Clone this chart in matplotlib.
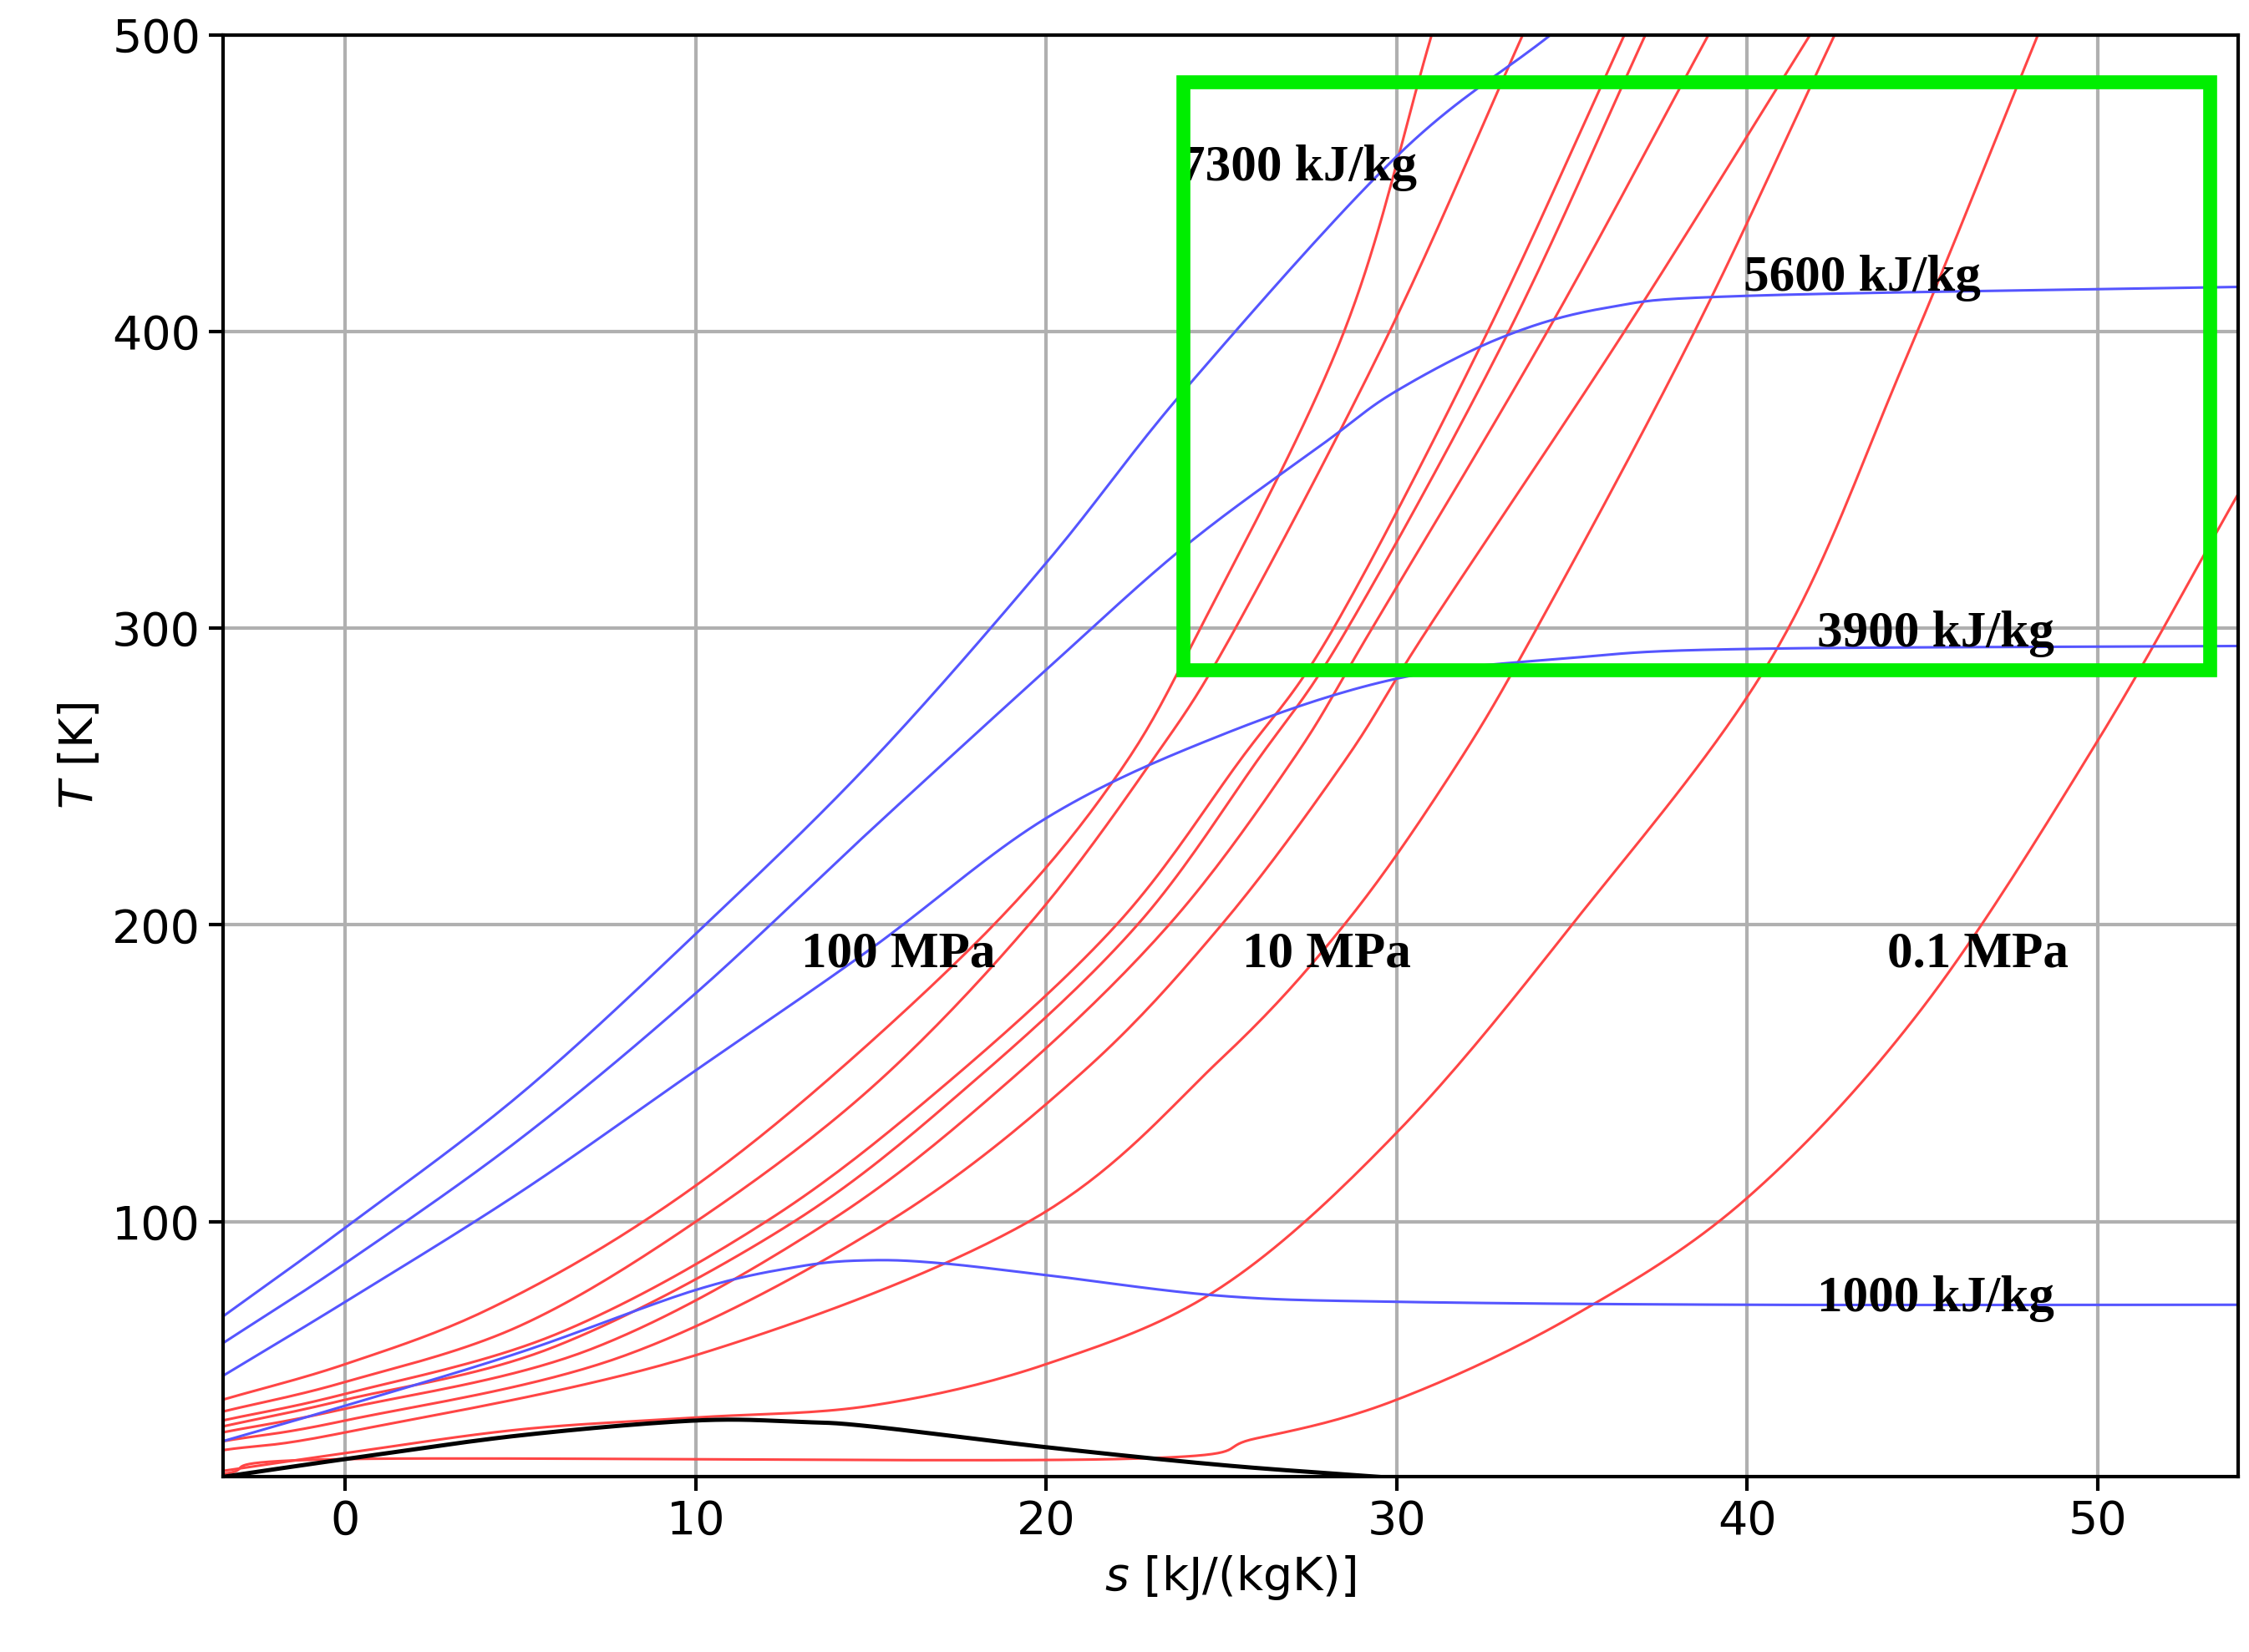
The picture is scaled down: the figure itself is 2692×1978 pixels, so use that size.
"""T-s diagram with isobars, isenthalps and the saturation dome."""

import matplotlib

matplotlib.use("Agg")
import numpy as np
from matplotlib import pyplot as plt
from matplotlib.patches import Rectangle

# isobars: (s [kJ/(kgK)], T [K]) points
isobars = [
    ([-3.5, 0, 4, 8.5, 13, 18.5, 22, 24.4, 28.5, 31.0], [40, 52, 70, 100, 140, 200, 250, 300, 400, 500]),
    ([-3.5, 0, 5, 10, 15, 19.5, 23, 25.4, 29.8, 33.6], [36, 46, 65, 100, 145, 200, 255, 300, 400, 500]),
    ([-3.5, 0, 6, 12, 17, 22.0, 25.5, 28.2, 32.6, 36.5], [33, 42, 62, 100, 145, 200, 255, 300, 400, 500]),
    ([-3.5, 0, 6, 12.8, 18, 22.6, 26, 28.6, 33.2, 37.1], [31, 40, 58, 100, 148, 200, 255, 300, 400, 500]),
    ([-3.5, 0, 7, 13.8, 19, 23.5, 27, 29.3, 34.3, 38.9], [29, 37, 57, 100, 148, 200, 255, 300, 400, 500]),
    ([-3.5, 0, 8, 15.5, 21, 25.0, 28.5, 30.9, 36.5, 41.8], [26, 33, 55, 100, 150, 200, 255, 300, 400, 500]),
    ([-3.5, 0, 10, 19.5, 25, 28.5, 31.5, 34.0, 38.5, 42.5], [23, 29, 55, 100, 155, 200, 250, 300, 400, 500]),
    ([-3.5, 0, 5, 10, 15, 20, 25, 30, 35, 40.7, 44.5, 48.3], [16, 22, 30, 34, 38, 52, 78, 130, 200, 290, 390, 500]),
    ([-3.5, 0, 22, 26, 30, 35, 40, 45, 50, 54], [15, 20, 20, 27, 40, 68, 108, 172, 262, 345]),
]

# isenthalps
isenthalps = [
    ([-3.5, 0, 5, 10, 15, 20, 24, 30, 34.4], [68, 98, 143, 197, 255, 322, 381, 459, 500]),
    ([-3.5, 0, 5, 10, 15, 20, 24, 28, 30, 33, 36, 40, 54], [59, 86, 128, 177, 232, 286, 328, 363, 380, 398, 408, 412, 415]),
    ([-3.5, 0, 5, 10, 15, 20, 25, 30, 35, 40, 54], [48, 73, 110, 151, 192, 236, 264, 283, 290, 293, 294]),
    ([-3.5, 0, 5, 10, 13, 15, 17, 20, 25, 30, 40, 54], [26, 38, 56, 77, 85, 87, 86, 82, 75, 73, 72, 72]),
]

# saturation dome
dome_s = [-3.5, 0, 5, 10, 13, 15, 20, 25, 29.5]
dome_T = [14, 20, 28, 33, 32.5, 31, 24, 18, 14]


def smooth(xs, ys, n=20):
    """Catmull-Rom path through the read points, for drawing only."""
    p = np.column_stack([xs, ys]).astype(float)
    p = np.vstack([2 * p[0] - p[1], p, 2 * p[-1] - p[-2]])
    t = np.linspace(0, 1, n, endpoint=False)[:, None]
    out = []
    for i in range(1, len(p) - 2):
        p0, p1, p2, p3 = p[i - 1], p[i], p[i + 1], p[i + 2]
        out.append(0.5 * (2 * p1 + (-p0 + p2) * t + (2 * p0 - 5 * p1 + 4 * p2 - p3) * t**2
                          + (-p0 + 3 * p1 - 3 * p2 + p3) * t**3))
    out.append(p[-2][None, :])
    out = np.vstack(out)
    return out[:, 0], out[:, 1]


fig, ax = plt.subplots(figsize=(13.46, 9.89), dpi=200)
fig.subplots_adjust(left=0.099, right=0.995, top=0.979, bottom=0.106)

for s, T in isobars:
    ax.plot(*smooth(s, T), color="#ff4545", lw=1.1)
for s, T in isenthalps:
    ax.plot(*smooth(s, T), color="#5555ff", lw=1.1)
ax.plot(*smooth(dome_s, dome_T), color="black", lw=1.8)

label_font = dict(family="Liberation Serif", weight="bold", fontsize=22, va="center")
ax.text(23.8, 455, "7300 kJ/kg", **label_font)
ax.text(39.9, 418, "5600 kJ/kg", **label_font)
ax.text(42.0, 298, "3900 kJ/kg", **label_font)
ax.text(42.0, 74, "1000 kJ/kg", **label_font)
ax.text(13.0, 190, "100 MPa", **label_font)
ax.text(25.6, 190, "10 MPa", **label_font)
ax.text(44.0, 190, "0.1 MPa", **label_font)

ax.add_patch(Rectangle((23.9, 286), 29.3, 198, fill=False, edgecolor="#00ee00", lw=6, zorder=5))

ax.set_xlim(-3.5, 54)
ax.set_ylim(14, 500)
ax.set_xticks([0, 10, 20, 30, 40, 50])
ax.set_yticks([100, 200, 300, 400, 500])
ax.tick_params(labelsize=20, width=1.5, length=6)
ax.set_xlabel(r"$s$ [kJ/(kgK)]", fontsize=20)
ax.set_ylabel(r"$T$ [K]", fontsize=20)
ax.grid(True, color="#b0b0b0", lw=1.5)
for spine in ax.spines.values():
    spine.set_linewidth(1.5)

fig.savefig("out.png")
